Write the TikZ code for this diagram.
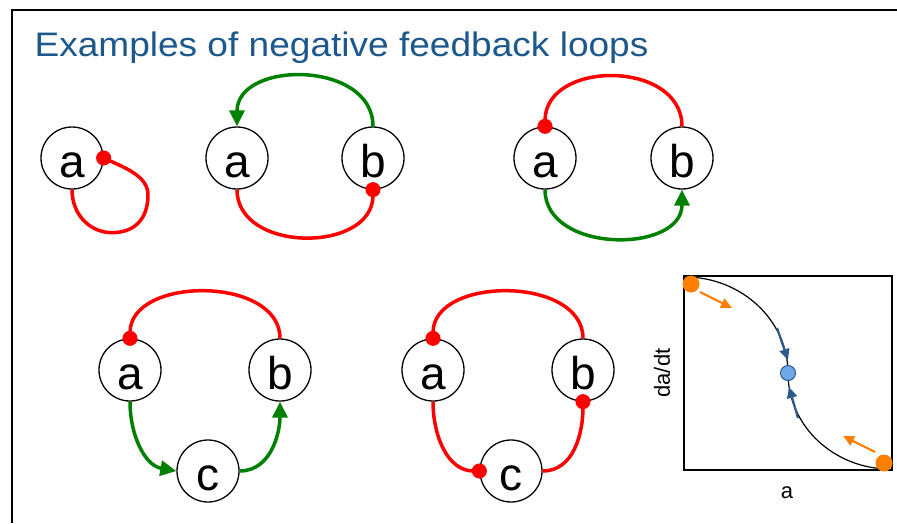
\documentclass[tikz,border=0pt]{standalone}
\usepackage{fontspec}
\setmainfont{Liberation Sans}
\newfontfamily\titlefont[FakeStretch=1.09]{Liberation Sans}
\usetikzlibrary{arrows.meta}
\definecolor{titleblue}{RGB}{28,88,140}
\definecolor{actgreen}{RGB}{0,128,0}
\definecolor{flowblue}{RGB}{44,90,140}
\definecolor{fixblue}{RGB}{110,168,235}
\definecolor{dotorange}{RGB}{255,128,0}

\begin{document}
\begin{tikzpicture}[x=1pt, y=1pt,
    species/.style={circle, draw, line width=1.3pt, minimum size=62pt, inner sep=0pt,
        font=\fontsize{46}{46}\selectfont, text height=38pt, text depth=0pt},
    act/.style={actgreen, line width=3.5pt, -{Triangle[length=16pt, width=15pt]}},
    inh/.style={red, line width=3.5pt, -{Circle[length=15pt, width=15pt]}, shorten >=-7.5pt},
    flow/.style={line width=2.2pt, -{Triangle[length=11pt, width=10pt]}}]
    \useasboundingbox (0,0) rectangle (897,-523);

    % frame and title
    \draw[line width=2pt] (12,-523) -- (12,-10) -- (897,-10);
    \node[anchor=base west, text=titleblue, font=\titlefont\fontsize{34}{40}\selectfont] (title) at (31,-56) {Examples of negative feedback loops};

    % self inhibition
    \node[species] (a1) at (72,-158) {a};
    \draw[inh] (a1.south) .. controls +(0,-25) and +(-22,0) .. ++(40,-43)
        .. controls +(22,0) and +(0,-25) .. ++(36,38)
        .. controls +(0,18) and +(22,-10) .. (a1.east);

    % a activated by b, b inhibited by a
    \node[species] (a2) at (237,-158) {a};
    \node[species] (b2) at (373,-158) {b};
    \draw[act] (b2.north) to[out=90, in=90, looseness=1.25] (a2.north);
    \draw[inh] (a2.south) to[out=-90, in=-90, looseness=1.2] (b2.south);

    % a inhibited by b, b activated by a
    \node[species] (a3) at (545,-158) {a};
    \node[species] (b3) at (682,-158) {b};
    \draw[inh] (b3.north) to[out=90, in=90, looseness=1.25] (a3.north);
    \draw[act] (a3.south) to[out=-90, in=-90, looseness=1.2] (b3.south);

    % three nodes, one inhibition
    \node[species] (a4) at (130,-370) {a};
    \node[species] (b4) at (280,-370) {b};
    \node[species] (c4) at (208,-471) {c};
    \draw[inh] (b4.north) to[out=90, in=90, looseness=1.07] (a4.north);
    \draw[act] (a4.south) to[out=-90, in=170] (c4.west);
    \draw[act] (c4.east) to[out=0, in=-90] (b4.south);

    % three nodes, three inhibitions
    \node[species] (a5) at (433,-370) {a};
    \node[species] (b5) at (583,-370) {b};
    \node[species] (c5) at (511,-471) {c};
    \draw[inh] (b5.north) to[out=90, in=90, looseness=1.07] (a5.north);
    \draw[inh] (a5.south) to[out=-90, in=180] (c5.west);
    \draw[inh] (c5.east) to[out=0, in=-90] (b5.south);

    % rate plot
    \draw[line width=1.3pt] (684,-276) rectangle (892,-470);
    \coordinate (fix) at (788,-373);
    \draw[line width=1.2pt] (685,-277) .. controls (742,-277) and (788,-321) .. (fix)
        .. controls (788,-426) and (834,-469) .. (890,-469);
    \draw[flow, flowblue] (777,-328) -- (788,-360);
    \draw[flow, flowblue] (798,-418) -- (789,-387);
    \draw[flow, dotorange] (700,-292) -- (732,-308);
    \draw[flow, dotorange] (875,-452) -- (843,-436);
    \fill[dotorange] (691,-284) circle (8.5);
    \fill[dotorange] (884,-463) circle (8.5);
    \filldraw[fill=fixblue, draw=flowblue, line width=1pt] (fix) circle (7.5);
    \node[rotate=90, font=\fontsize{22}{22}\selectfont] (ylab) at (662,-373) {da/dt};
    \node[font=\fontsize{22}{22}\selectfont] (xlab) at (787,-493) {a};
\end{tikzpicture}
\end{document}
